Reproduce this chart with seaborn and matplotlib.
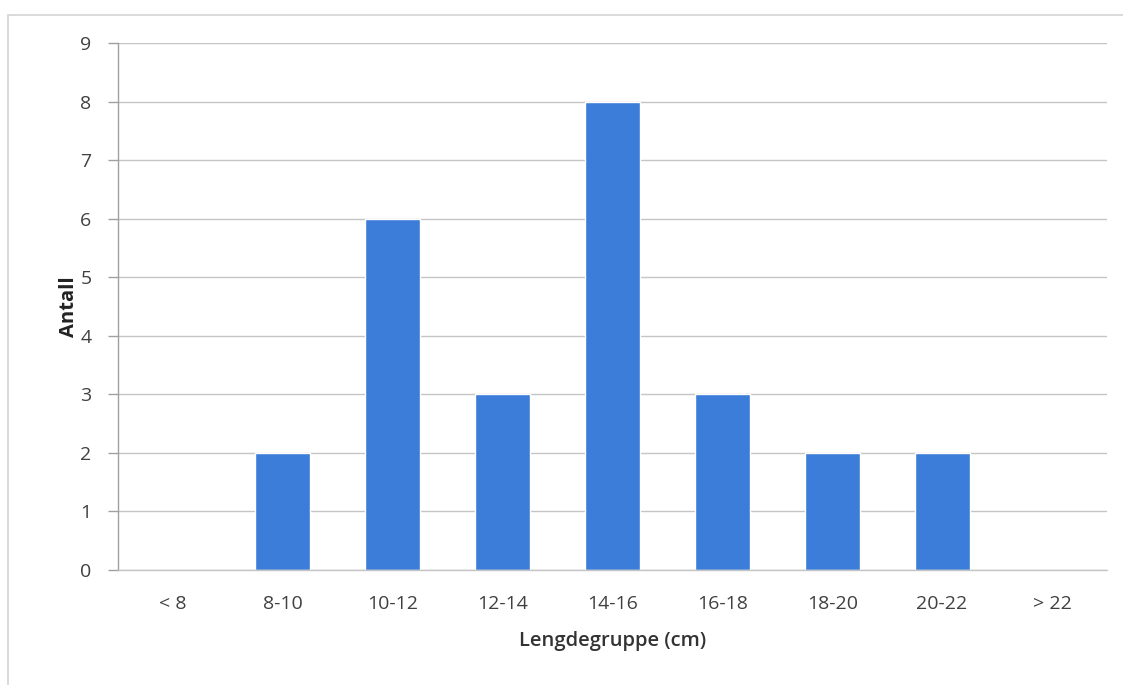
import matplotlib
matplotlib.use("Agg")
import matplotlib.pyplot as plt
import seaborn as sns
import pandas as pd
from matplotlib.patches import Rectangle

# data
groups = ["< 8", "8-10", "10-12", "12-14", "14-16", "16-18", "18-20", "20-22", "> 22"]
counts = [0, 2, 6, 3, 8, 3, 2, 2, 0]
yticks = list(range(0, 10))

sns.set_theme(style="white")
plt.rcParams['font.family'] = ['Open Sans', 'DejaVu Sans']

df = pd.DataFrame({"gruppe": groups, "antall": counts})

fig = plt.figure(figsize=(11.23, 6.85), dpi=100)
ax = fig.add_axes([0.105, 0.168, 0.8807, 0.769])

# light frame around the chart area, like the spreadsheet export
fig.patches.append(Rectangle((8 / 1123, -0.05), 1.2, 1 - 15 / 685 + 0.05,
                             transform=fig.transFigure, fill=False,
                             edgecolor="#d4d4d4", linewidth=1.2))

sns.barplot(data=df, x="gruppe", y="antall", color="#3b7dd8", width=0.5,
            saturation=1, ax=ax, zorder=3)

ax.set_ylim(0, 9)
ax.set_xlim(-0.5, len(groups) - 0.5)
ax.set_yticks(yticks)
ax.yaxis.grid(True, color="#c4c4c4", linewidth=1)
ax.axhline(0, color="#c4c4c4", linewidth=1, zorder=4, clip_on=False)
ax.set_axisbelow(True)
for s in ["top", "right"]:
    ax.spines[s].set_visible(False)
ax.spines["bottom"].set_visible(False)
ax.spines["left"].set_color("#a0a0a0")
ax.spines["left"].set_linewidth(1)
ax.tick_params(axis="y", left=True, length=7, width=1, color="#a0a0a0",
               labelsize=14, labelcolor="#404040", pad=12)
ax.tick_params(axis="x", bottom=False, labelsize=14, labelcolor="#404040", pad=12)

ax.set_ylabel("Antall", fontsize=14.5, fontweight="bold", color="#222222", labelpad=1)
ax.set_xlabel("Lengdegruppe (cm)", fontsize=14.5, fontweight="semibold",
              color="#333333", labelpad=13)

fig.savefig("out.png", dpi=100)
